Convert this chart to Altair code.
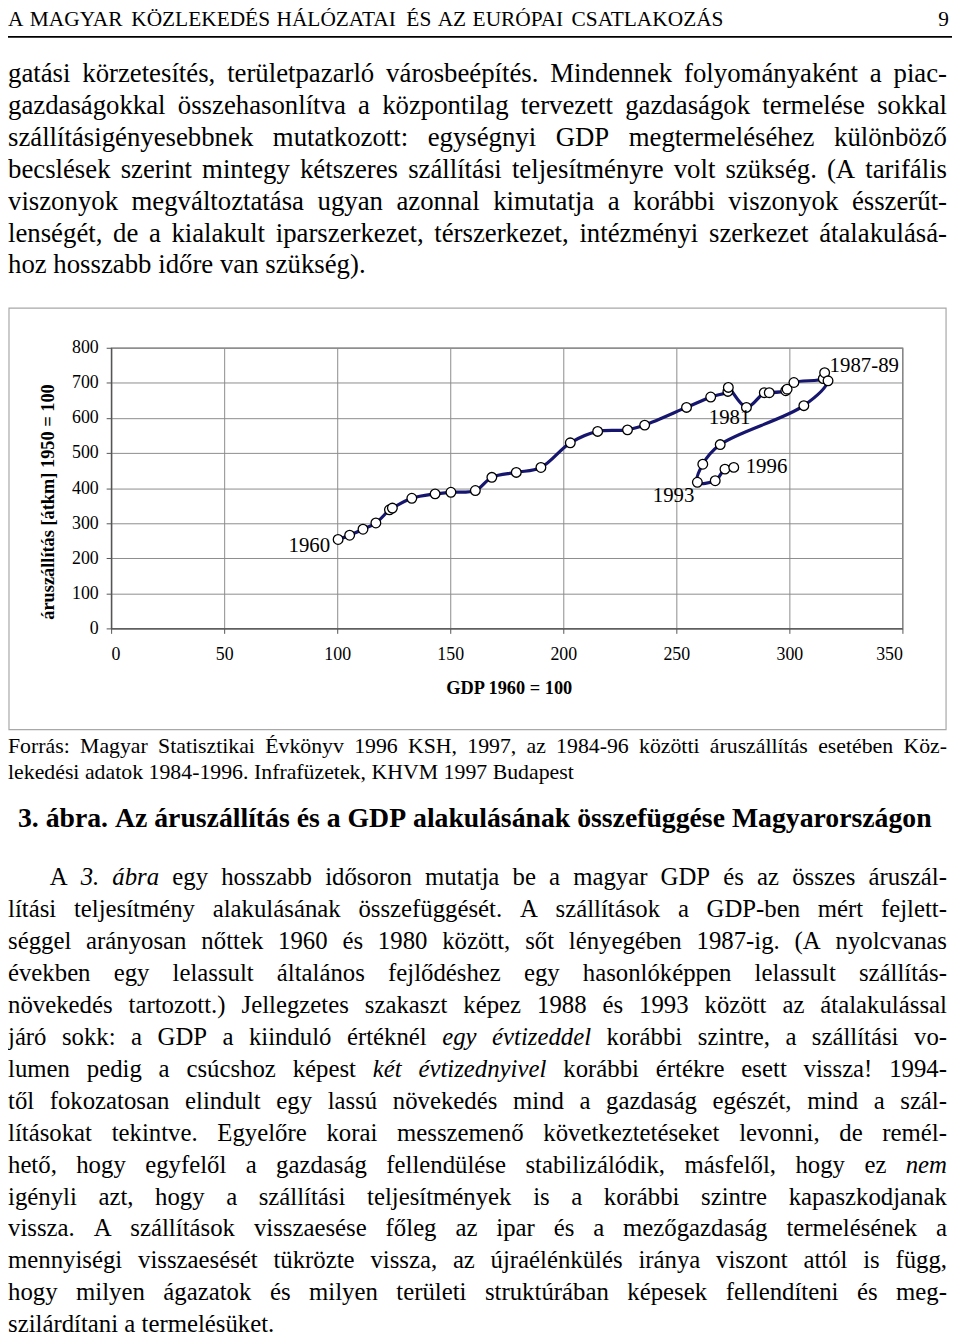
import unicodedata
import altair as alt
import pandas as pd

# ---------------- data ----------------
years = list(range(1960, 1997))
gdp = [100.4, 105.5, 111.4, 117.1, 123.1, 124.4, 133.0, 143.3, 150.3, 161.1,
       168.4, 179.2, 190.1, 203.1, 215.2, 228.4, 236.0, 254.5, 265.2, 272.8,
       273.0, 281.0, 288.9, 291.1, 298.4, 299.0, 302.0, 315.0, 315.6, 317.1,
       306.4, 269.4, 261.7, 259.3, 267.2, 271.5, 275.4]
freight = [253.5, 265.7, 282.7, 300.6, 338, 343, 371, 383.5, 388, 393,
           430.6, 444.7, 458.8, 529, 561.6, 566, 579.5, 630, 659.6, 675.6,
           687, 630, 672, 672, 677.5, 682, 701, 712, 729, 705.8,
           635, 524, 468, 416.5, 421, 454, 459]

x_ticks = [0, 50, 100, 150, 200, 250, 300, 350]
y_ticks = [0, 100, 200, 300, 400, 500, 600, 700, 800]

ann_labels = ["1960", "1981", "1993", "1996", "1987-89"]
ann_years = [1960, 1981, 1993, 1996, 1988]

x_title = "GDP 1960 = 100"
y_title = "áruszállítás [átkm] 1950 = 100"

header_text = "A MAGYAR KÖZLEKEDÉS HÁLÓZATAI ÉS AZ EURÓPAI CSATLAKOZÁS"
page_number = "9"

top_para = [
    "gatási körzetesítés, területpazarló városbeépítés. Mindennek folyományaként a piac-",
    "gazdaságokkal összehasonlítva a központilag tervezett gazdaságok termelése sokkal",
    "szállításigényesebbnek mutatkozott: egységnyi GDP megtermeléséhez különböző",
    "becslések szerint mintegy kétszeres szállítási teljesítményre volt szükség. (A tarifális",
    "viszonyok megváltoztatása ugyan azonnal kimutatja a korábbi viszonyok ésszerűt-",
    "lenségét, de a kialakult iparszerkezet, térszerkezet, intézményi szerkezet átalakulásá-",
    "hoz hosszabb időre van szükség).",
]

source_lines = [
    "Forrás: Magyar Statisztikai Évkönyv 1996 KSH, 1997, az 1984-96 közötti áruszállítás esetében Köz-",
    "lekedési adatok 1984-1996.  Infrafüzetek, KHVM 1997 Budapest",
]

caption = "3. ábra.  Az áruszállítás és a GDP alakulásának összefüggése Magyarországon"

bottom_para = [
    "A *3.* *ábra* egy hosszabb idősoron mutatja be a magyar GDP és az összes áruszál-",
    "lítási teljesítmény alakulásának összefüggését. A szállítások a GDP-ben mért fejlett-",
    "séggel arányosan nőttek 1960 és 1980 között, sőt lényegében 1987-ig. (A nyolcvanas",
    "években egy lelassult általános fejlődéshez egy hasonlóképpen lelassult szállítás-",
    "növekedés tartozott.) Jellegzetes szakaszt képez 1988 és 1993 között az átalakulással",
    "járó sokk: a GDP a kiinduló értéknél *egy* *évtizeddel* korábbi szintre, a szállítási vo-",
    "lumen pedig a csúcshoz képest *két* *évtizednyivel* korábbi értékre esett vissza! 1994-",
    "től fokozatosan elindult egy lassú növekedés mind a gazdaság egészét, mind a szál-",
    "lításokat tekintve. Egyelőre korai messzemenő következtetéseket levonni, de remél-",
    "hető, hogy egyfelől a gazdaság fellendülése stabilizálódik, másfelől, hogy ez *nem*",
    "igényli azt, hogy a szállítási teljesítmények is a korábbi szintre kapaszkodjanak",
    "vissza. A szállítások visszaesése főleg az ipar és a mezőgazdaság termelésének a",
    "mennyiségi visszaesését tükrözte vissza, az újraélénkülés iránya viszont attól is függ,",
    "hogy milyen ágazatok és milyen területi struktúrában képesek fellendíteni és meg-",
    "szilárdítani a termelésüket.",
]

# ---------------- text metrics (Times metrics = Liberation Serif) ----------------
UP = "ABCDEFGHIJKLMNOPQRSTUVWXYZ"
LO = "abcdefghijklmnopqrstuvwxyz"
common = {" ": 250, ".": 250, ",": 250, ":": 278, ";": 278, "-": 333, "(": 333,
          ")": 333, "!": 333, "[": 333, "]": 333, "=": 564}
common.update({d: 500 for d in "0123456789"})
W = {
    "normal": dict(common, **dict(zip(UP, [722, 667, 667, 722, 611, 556, 722, 722, 333, 389, 722, 611, 889,
                                           722, 722, 556, 722, 667, 556, 611, 722, 722, 944, 722, 722, 611])),
                   **dict(zip(LO, [444, 500, 444, 500, 444, 333, 500, 500, 278, 278, 500, 278, 778,
                                   500, 500, 500, 500, 333, 389, 278, 500, 500, 722, 500, 500, 444]))),
    "italic": dict(common, **dict(zip(UP, [611, 611, 667, 722, 611, 611, 722, 722, 333, 444, 667, 556, 833,
                                           667, 722, 611, 722, 611, 500, 556, 722, 611, 833, 611, 556, 556])),
                   **dict(zip(LO, [500, 500, 444, 500, 444, 278, 500, 500, 278, 278, 444, 278, 722,
                                   500, 500, 500, 500, 389, 389, 278, 500, 444, 667, 444, 444, 389]))),
    "bold": dict(common, **dict(zip(UP, [722, 667, 722, 722, 667, 611, 778, 778, 389, 500, 778, 667, 944,
                                         722, 778, 611, 778, 722, 556, 667, 722, 722, 1000, 722, 722, 667])),
                 **dict(zip(LO, [500, 556, 444, 556, 444, 333, 500, 556, 278, 333, 556, 278, 833,
                                 556, 500, 556, 556, 444, 389, 333, 556, 500, 722, 500, 500, 444]))),
}


def em_w(s, style):
    t = W[style]
    return sum(t.get(unicodedata.normalize("NFD", ch)[0], 500) for ch in s) / 1000.0


def parse(line, default_style):
    out = []
    for t in [t for t in line.split(" ") if t != ""]:
        if t.startswith("*") and t.endswith("*") and len(t) > 1:
            out.append((t.strip("*"), "italic"))
        else:
            out.append((t, default_style))
    return out


def fit_fs(lines, x0, x1, default_style="normal", indent=0, justify_last=False, cap=40, space=0.25):
    best = cap
    for i, line in enumerate(lines):
        if i == len(lines) - 1 and not justify_last:
            continue
        words = parse(line, default_style)
        em = sum(em_w(w, s) for w, s in words) + (len(words) - 1) * space
        avail = x1 - x0 - (indent if i == 0 else 0)
        best = min(best, avail / em)
    return best


# page -> coordinates relative to the plot area (plot at page x=112, y=345)
PX0, PY0 = 112, 345


def rx(v):
    return v - PX0


def ry(v):
    return v - PY0


def layout(lines, x0, x1, base0, step, fs, default_style="normal", last_justified=False,
           indent=0):
    rows = []
    for i, line in enumerate(lines):
        words = parse(line, default_style)
        widths = [em_w(w, s) * fs for w, s in words]
        start = x0 + (indent if i == 0 else 0)
        justify = (i < len(lines) - 1) or last_justified
        if justify and len(words) > 1:
            gap = (x1 - start - sum(widths)) / (len(words) - 1)
        else:
            gap = 0.25 * fs
        x = start
        for (w, s), wd in zip(words, widths):
            rows.append({"t": w, "x": rx(x), "y": ry(base0 + i * step), "fs": fs, "st": s})
            x += wd + gap
    return rows


rows = []
fs_h = fit_fs([header_text], 8, 732, justify_last=True, cap=24, space=0.3)
rows += layout([header_text], 8, 732, 20, 0, fs_h, last_justified=True)
fs_t = fit_fs(top_para, 8, 955, cap=27, space=0.27)
rows += layout(top_para, 8, 955, 77, 32.17, fs_t)
fs_s = fit_fs(source_lines, 8, 955, cap=22, space=0.25)
rows += layout(source_lines, 8, 955, 754, 26, fs_s)
fs_c = fit_fs([caption], 18, 940, default_style="bold", justify_last=True, cap=28, space=0.25)
rows += layout([caption], 18, 940, 828, 0, fs_c, default_style="bold", last_justified=True)
fs_b = fit_fs(bottom_para, 8, 955, indent=42, cap=25, space=0.22)
rows += layout(bottom_para, 8, 955, 887, 32.2, fs_b, indent=42)
words_df = pd.DataFrame(rows)

df = pd.DataFrame({"year": years, "gdp": gdp, "freight": freight})
ann_df = pd.DataFrame({
    "label": ann_labels,
    "gdp": [gdp[years.index(y)] for y in ann_years],
    "freight": [freight[years.index(y)] for y in ann_years],
})

FONT = "Liberation Serif"
xs = alt.Scale(domain=[0, 350], nice=False, zero=False)
ys = alt.Scale(domain=[0, 800], nice=False)
x_axis = alt.Axis(values=x_ticks, tickCount=8, title=x_title, titleX=401, titleY=60,
                  titleBaseline="middle", labelPadding=12, format="d", labelOverlap=False)
y_axis = alt.Axis(values=y_ticks, tickCount=9, title=y_title, titleX=-64, titleY=155,
                  titleBaseline="middle", titleAlign="center", titleAngle=270,
                  labelPadding=8, format="d", labelOverlap=False)
X = alt.X("gdp:Q", scale=xs, axis=x_axis)
Y = alt.Y("freight:Q", scale=ys, axis=y_axis)

line = alt.Chart(df).mark_line(color="#16166e", strokeWidth=3.2, interpolate="catmull-rom").encode(
    x=X, y=Y, order=alt.Order("year:Q"))
pts = alt.Chart(df).mark_point(shape="circle", filled=True, fill="white", stroke="black",
                               strokeWidth=1.3, size=95, opacity=1).encode(x=X, y=Y)

ann_offsets = {
    "1960": dict(align="right", dx=-8, dy=7),
    "1981": dict(align="center", dx=-17, dy=11),
    "1993": dict(align="right", dx=-3, dy=14),
    "1996": dict(align="left", dx=12, dy=0),
    "1987-89": dict(align="left", dx=5, dy=-7),
}
ann_layers = []
for lab in ann_labels:
    o = ann_offsets[lab]
    ann_layers.append(
        alt.Chart(ann_df).transform_filter(alt.datum.label == lab).mark_text(
            font=FONT, fontSize=21, baseline="middle", color="black", **o).encode(
            x=X, y=Y, text="label:N"))

one = pd.DataFrame({"k": [0]})
box = alt.Chart(one).mark_rect(filled=False, stroke="#a8a8a8", strokeWidth=1.2).encode(
    x=alt.value(rx(9)), x2=alt.value(rx(954)), y=alt.value(ry(305)), y2=alt.value(ry(730)))
hrule = alt.Chart(one).mark_rule(color="black", strokeWidth=1.6).encode(
    x=alt.value(rx(8)), x2=alt.value(rx(960)), y=alt.value(ry(31.5)))
pnum = alt.Chart(one).mark_text(font=FONT, fontSize=fs_h, align="right", baseline="alphabetic",
                                color="black").encode(
    x=alt.value(rx(957)), y=alt.value(ry(20)), text=alt.value(page_number))

word_layers = []
for st in ["normal", "italic", "bold"]:
    kw = {"fontStyle": "italic"} if st == "italic" else ({"fontWeight": "bold"} if st == "bold" else {})
    word_layers.append(
        alt.Chart(words_df).transform_filter(alt.datum.st == st).mark_text(
            font=FONT, align="left", baseline="alphabetic", color="black", **kw).encode(
            x=alt.X("x:Q", scale=None, axis=None),
            y=alt.Y("y:Q", scale=None, axis=None),
            size=alt.Size("fs:Q", scale=None, legend=None),
            text="t:N"))

chart = alt.layer(line, pts, *ann_layers, box, hrule, pnum, *word_layers).properties(
    width=798, height=283,
    padding={"left": 104, "top": 337, "right": 50, "bottom": 714},
    autosize=alt.AutoSizeParams(type="none"),
    background="white",
).configure_view(stroke="#707070", strokeWidth=1.2).configure_axis(
    grid=True, gridColor="#8c8c8c", gridWidth=1,
    domainColor="#555555", domainWidth=1.4,
    tickColor="#555555", tickSize=5, tickWidth=1,
    labelFont=FONT, labelFontSize=18, labelColor="black",
    titleFont=FONT, titleFontSize=18.5, titleFontWeight="bold", titleColor="black",
)

chart.save("out.html", embed_options={"renderer": "svg", "actions": False})
